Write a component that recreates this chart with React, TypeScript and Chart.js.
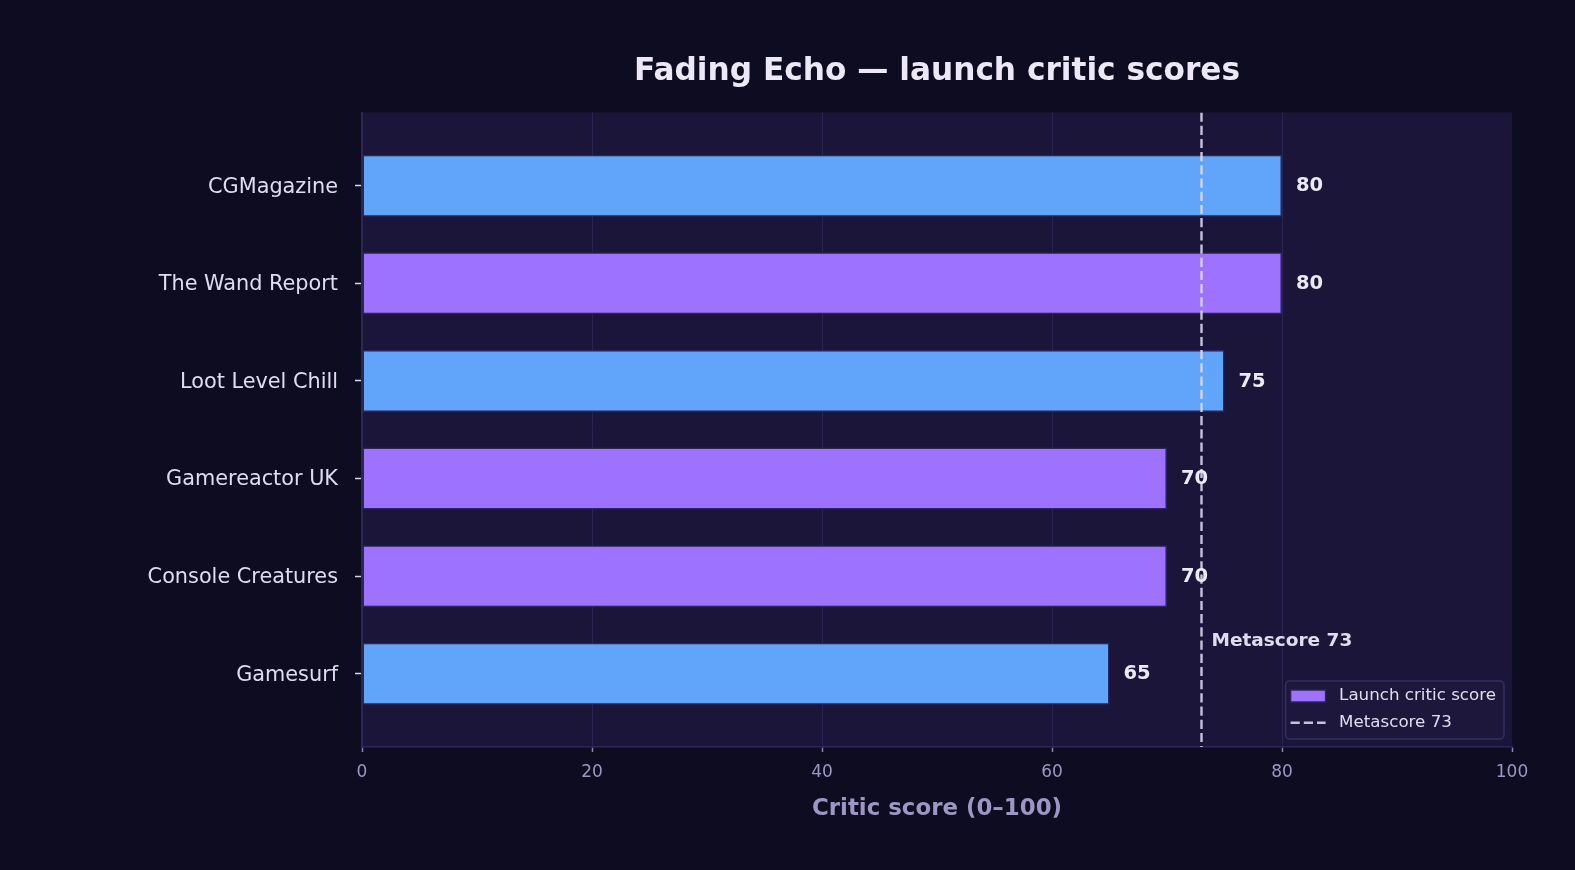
import React, { useEffect, useRef } from "react";
import { Chart, registerables } from "chart.js";

Chart.register(...registerables);

// ---- data ----
const outlets = [
  "CGMagazine",
  "The Wand Report",
  "Loot Level Chill",
  "Gamereactor UK",
  "Console Creatures",
  "Gamesurf",
];
const scores = [80, 80, 75, 70, 70, 65];
const metascore = 73;
const xTickValues = [0, 20, 40, 60, 80, 100];
const seriesLabel = "Launch critic score";
const metaLabel = "Metascore 73";
const titleText = "Fading Echo \u2014 launch critic scores";
const xAxisTitle = "Critic score (0\u2013100)";

// ---- styles ----
const BLUE = "#60a5fa";
const PURPLE = "#9d72fe";
const barColors = [BLUE, PURPLE, BLUE, PURPLE, PURPLE, BLUE];
const PAGE_BG = "#0e0c20";
const PLOT_BG = "#1b1639";
const SPINE = "#2e2858";
const GRID = "#2a2451";
const BAR_EDGE = "#2c2560";
const TEXT = "#ece8f8";
const TICK_TEXT = "#e0dcf0";
const MUTED = "#9d96c4";
const META_LINE = "rgba(222,218,242,0.88)";
const FONT = "'DejaVu Sans', 'Liberation Sans', sans-serif";
const META_DASH = [9.2, 4];
const annotationIndexPos = 4.67;

const decorPlugin = {
  id: "decor",
  beforeDraw(chart: any) {
    const { ctx, chartArea: ca, width, height } = chart;
    ctx.save();
    ctx.fillStyle = PAGE_BG;
    ctx.fillRect(0, 0, width, height);
    ctx.fillStyle = PLOT_BG;
    ctx.fillRect(ca.left, ca.top, ca.right - ca.left, ca.bottom - ca.top);
    ctx.restore();
  },
  afterDatasetsDraw(chart: any) {
    const { ctx } = chart;
    const xs = chart.scales.x;
    const ys = chart.scales.y;
    ctx.save();
    ctx.fillStyle = TEXT;
    ctx.font = `bold 19.5px ${FONT}`;
    ctx.textAlign = "left";
    ctx.textBaseline = "middle";
    scores.forEach((v, i) => {
      ctx.fillText(String(v), xs.getPixelForValue(v) + 14, ys.getPixelForValue(i) + 0.5);
    });
    ctx.fillStyle = TICK_TEXT;
    ctx.font = `bold 18.5px ${FONT}`;
    ctx.fillText(metaLabel, xs.getPixelForValue(metascore) + 10, ys.getPixelForValue(annotationIndexPos));
    ctx.restore();
  },
  afterDraw(chart: any) {
    const { ctx, chartArea: ca } = chart;
    ctx.save();
    // title
    ctx.fillStyle = TEXT;
    ctx.font = `bold 31.2px ${FONT}`;
    ctx.textAlign = "center";
    ctx.textBaseline = "middle";
    ctx.fillText(titleText, (ca.left + ca.right) / 2, 72);

    // legend
    ctx.font = `16.7px ${FONT}`;
    const tw = Math.max(ctx.measureText(seriesLabel).width, ctx.measureText(metaLabel).width);
    const bw = 5 + 35 + 13.5 + tw + 8;
    const bh = 58;
    const bx = ca.right - 8 - bw;
    const by = ca.bottom - 8 - bh;
    ctx.beginPath();
    (ctx as any).roundRect(bx, by, bw, bh, 4);
    ctx.fillStyle = "#1d173c";
    ctx.fill();
    ctx.lineWidth = 1.5;
    ctx.strokeStyle = "#352e66";
    ctx.stroke();
    const sx = bx + 5;
    const r1 = by + 15;
    const r2 = by + 41.8;
    ctx.fillStyle = PURPLE;
    ctx.fillRect(sx, r1 - 6, 35, 12);
    ctx.strokeStyle = BAR_EDGE;
    ctx.lineWidth = 1.5;
    ctx.strokeRect(sx, r1 - 6, 35, 12);
    ctx.beginPath();
    ctx.setLineDash(META_DASH);
    ctx.strokeStyle = META_LINE;
    ctx.lineWidth = 2.4;
    ctx.moveTo(sx, r2);
    ctx.lineTo(sx + 35, r2);
    ctx.stroke();
    ctx.setLineDash([]);
    ctx.fillStyle = TICK_TEXT;
    ctx.textAlign = "left";
    ctx.textBaseline = "middle";
    ctx.fillText(seriesLabel, sx + 35 + 13.5, r1);
    ctx.fillText(metaLabel, sx + 35 + 13.5, r2);
    ctx.restore();
  },
};

export default function App() {
  const ref = useRef<HTMLCanvasElement | null>(null);

  useEffect(() => {
    document.body.style.margin = "0";
    document.body.style.background = PAGE_BG;
    const canvas = ref.current;
    if (!canvas) return;
    const chart = new Chart(canvas, {
      type: "bar",
      data: {
        datasets: [
          {
            type: "bar",
            label: seriesLabel,
            data: scores.map((v, i) => ({ x: v, y: i })),
            backgroundColor: barColors,
            borderColor: BAR_EDGE,
            borderWidth: 1.5,
            borderSkipped: false,
            barPercentage: 0.635,
            categoryPercentage: 1,
            order: 1,
          } as any,
          {
            type: "line",
            label: metaLabel,
            data: [
              { x: metascore, y: -0.75 },
              { x: metascore, y: 5.75 },
            ],
            borderColor: META_LINE,
            borderWidth: 2.4,
            borderDash: META_DASH,
            pointRadius: 0,
            fill: false,
            order: 0,
          } as any,
        ],
      },
      options: {
        indexAxis: "y",
        animation: false,
        responsive: false,
        devicePixelRatio: 1,
        layout: { padding: { top: 112.5, right: 63, bottom: 0, left: 0 } },
        plugins: {
          legend: { display: false },
          title: { display: false },
          tooltip: { enabled: false },
        },
        scales: {
          x: {
            type: "linear",
            min: 0,
            max: 100,
            offset: false,
            afterBuildTicks: (scale: any) => {
              scale.ticks = xTickValues.map((v) => ({ value: v }));
            },
            afterFit: (scale: any) => {
              scale.height = 123;
            },
            ticks: {
              color: MUTED,
              font: { family: FONT, size: 17 },
              padding: 10,
            },
            grid: {
              offset: false,
              color: (c: any) => (c.tick && c.tick.value === 100 ? "transparent" : GRID),
              lineWidth: 1,
              tickLength: 5,
              tickColor: "#8a82b2",
              tickWidth: 1.5,
            },
            border: { display: true, color: SPINE, width: 1.5 },
            title: {
              display: true,
              text: xAxisTitle,
              color: MUTED,
              font: { family: FONT, size: 22.9, weight: "bold" },
              padding: { top: 0, bottom: 47 },
            },
          },
          y: {
            type: "linear",
            reverse: true,
            min: -0.75,
            max: 5.75,
            offset: false,
            afterBuildTicks: (scale: any) => {
              scale.ticks = outlets.map((_, i) => ({ value: i }));
            },
            afterFit: (scale: any) => {
              scale.width = 362;
            },
            ticks: {
              color: TICK_TEXT,
              font: { family: FONT, size: 20.8 },
              padding: 17,
              labelOffset: 1.5,
              callback: (value: any) => outlets[value as number] ?? "",
            },
            grid: {
              offset: false,
              drawOnChartArea: false,
              tickLength: 7,
              tickColor: "#d8d4ec",
              tickWidth: 1.5,
            },
            border: { display: true, color: SPINE, width: 1.5 },
          },
        },
      } as any,
      plugins: [decorPlugin],
    });
    return () => chart.destroy();
  }, []);

  return (
    <div style={{ width: 1575, height: 870, background: PAGE_BG }}>
      <canvas ref={ref} width={1575} height={870} style={{ display: "block" }} />
    </div>
  );
}
